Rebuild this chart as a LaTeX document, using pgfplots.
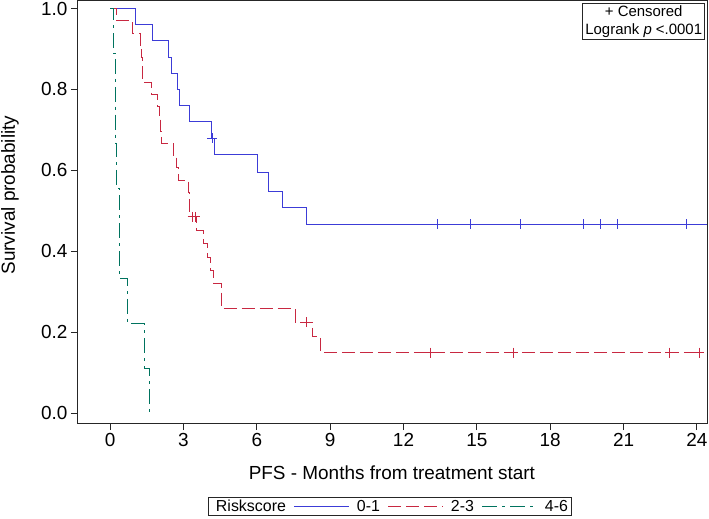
\documentclass[border=0pt]{standalone}
\usepackage{fontspec}
\setmainfont{Liberation Sans}
\usepackage{pgfplots}
\pgfplotsset{compat=1.18}
\definecolor{kmblue}{RGB}{60,60,215}
\definecolor{kmred}{RGB}{200,40,65}
\definecolor{kmgreen}{RGB}{0,115,95}
\begin{document}
\begin{tikzpicture}
\useasboundingbox (-78bp,-95.3bp) rectangle (631bp,423bp);
\begin{axis}[
  at={(0,0)}, anchor=south west,
  scale only axis, width=629bp, height=422bp,
  xmin=-1.31, xmax=24.41, ymin=-0.024, ymax=1.0185,
  xtick={0,3,...,24}, ytick={0,0.2,0.4,0.6,0.8,1},
  xtick pos=bottom, ytick pos=left, tick align=outside,
  major tick length=7bp,
  axis line style={black!85, line width=1bp},
  every tick/.style={black!85, line width=1bp},
  /pgf/number format/assume math mode=true,
  tick label style={font=\fontsize{19}{22}\selectfont},
  yticklabel style={/pgf/number format/.cd, fixed, fixed zerofill, precision=1},
  xlabel={PFS - Months from treatment start},
  ylabel={Survival probability},
  label style={font=\fontsize{19}{22}\selectfont},
  xlabel style={at={(axis description cs:0.499,-0.1185)}, anchor=center},
  ylabel style={at={(axis description cs:-0.108,0.54)}, anchor=center},
  legend columns=4,
  legend cell align=left,
  legend image code/.code={\draw[#1] (0bp,0bp) -- (55bp,0bp);},
  legend style={at={(axis description cs:0.206,-0.175)}, anchor=north west,
    draw=black!85, line width=0.8bp, font=\fontsize{16}{18}\selectfont,
    inner xsep=1bp, inner ysep=0.5bp,
    /tikz/every odd column/.append style={column sep=5bp},
    /tikz/every even column/.append style={column sep=6bp}},
]
\addlegendimage{empty legend}
\addlegendentry{Riskscore\hspace{14bp}}

% 0-1
\addplot[kmblue, line width=1bp, const plot mark left] table {
x y
0 1
1.06 0.96
1.75 0.92
2.39 0.88
2.52 0.84
2.77 0.80
2.84 0.76
3.23 0.72
4.16 0.68
4.27 0.64
6.03 0.594
6.48 0.549
7.07 0.508
8.05 0.467
24.41 0.467
};
\addlegendentry{0-1}

% 2-3
\addplot[kmred, line width=1bp, const plot mark left, dash pattern=on 13bp off 5bp] table {
x y
0 1
0.245 0.970
0.91 0.939
1.23 0.909
1.28 0.879
1.31 0.848
1.33 0.818
1.70 0.788
1.93 0.758
2.04 0.727
2.08 0.697
2.11 0.667
2.59 0.636
2.73 0.606
2.80 0.576
3.22 0.545
3.24 0.515
3.25 0.485
3.54 0.452
3.82 0.419
3.98 0.386
4.09 0.353
4.25 0.320
4.57 0.258
7.57 0.225
8.29 0.189
8.61 0.150
24.09 0.150
};
\addlegendentry{2-3}

% 4-6
\addplot[kmgreen, line width=1bp, const plot mark left, dash pattern=on 15bp off 5bp on 3bp off 5bp] table {
x y
0 1
0.135 0.889
0.23 0.778
0.24 0.667
0.27 0.556
0.37 0.444
0.38 0.333
0.72 0.222
1.40 0.111
1.61 0
};
\addlegendentry{4-6}

% censored observations
\addplot[kmblue, only marks, mark=+, mark size=5bp, line width=1bp, forget plot] table {
x y
4.18 0.68
13.37 0.467
14.72 0.467
16.80 0.467
19.34 0.467
20.07 0.467
20.77 0.467
23.59 0.467
};
\addplot[kmred, only marks, mark=+, mark size=5bp, line width=1bp, forget plot] table {
x y
3.38 0.485
3.48 0.485
8.05 0.225
13.12 0.150
16.49 0.150
22.89 0.150
24.09 0.150
};

\node[draw=black!85, line width=0.8bp, align=center, anchor=north east,
  inner xsep=2.5bp, inner ysep=2bp, xshift=-2bp, yshift=-2bp,
  font=\fontsize{15}{18}\selectfont] at (rel axis cs:1,1)
  {+ Censored\\Logrank \textit{p} <.0001};
\end{axis}
\end{tikzpicture}
\end{document}
